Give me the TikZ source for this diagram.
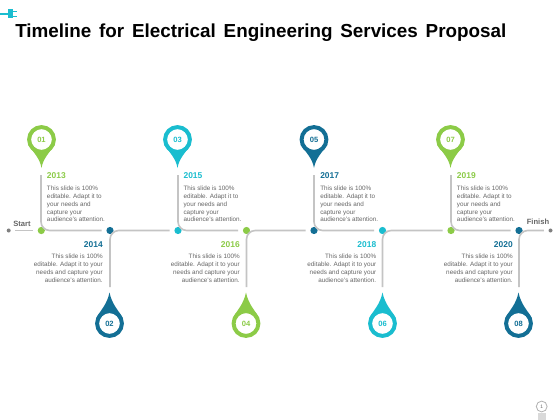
\documentclass[tikz,border=0pt]{standalone}
\usepackage{fontspec}
\setmainfont{Liberation Sans}
\usetikzlibrary{arrows.meta, positioning}
\definecolor{pinGreen}{HTML}{8CCB47}
\definecolor{pinCyan}{HTML}{1ABDCF}
\definecolor{pinDark}{HTML}{136F95}
\definecolor{railGray}{HTML}{C4C4C4}
\definecolor{bodyGray}{HTML}{666666}
\begin{document}
\begin{tikzpicture}[
    x=0.025cm, y=-0.025cm,
    pinRing/.style={circle, draw, fill=white, line width=0.1cm, minimum size=0.62cm, inner sep=0pt, font=\fontsize{5.4}{6}\selectfont\bfseries},
    tipDown/.pic={\fill (-13.4,5) .. controls (-8,13) and (-1.5,19) .. (0,28.5) .. controls (1.5,19) and (8,13) .. (13.4,5) -- cycle;},
    tipUp/.pic={\fill (-13,-6) .. controls (-9,-13) and (-2.5,-19) .. (0,-31) .. controls (2.5,-19) and (9,-13) .. (13,-6) -- cycle;},
    railDot/.style={circle, minimum size=0.18cm, inner sep=0pt},
    endDot/.style={circle, fill=gray, minimum size=0.1cm, inner sep=0pt},
    railLine/.style={draw=railGray, line width=0.04cm, rounded corners=0.22cm, shorten >=0.11cm},
    yearTop/.style={anchor=west, inner sep=0pt, font=\fontsize{6}{7}\selectfont\bfseries},
    yearBottom/.style={anchor=east, inner sep=0pt, font=\fontsize{6}{7}\selectfont\bfseries},
    bodyTop/.style={anchor=north west, align=left, inner sep=0pt, text=bodyGray, font=\fontsize{4.5}{5.5}\selectfont},
    bodyBottom/.style={anchor=north east, align=right, inner sep=0pt, text=bodyGray, font=\fontsize{4.5}{5.5}\selectfont},
    endLabel/.style={inner sep=0pt, text=bodyGray, font=\fontsize{5.4}{6}\selectfont\bfseries}
]
    % Page
    \fill[white] (0,0) rectangle (560,420);
    \useasboundingbox (0,0) rectangle (560,420);

    % Title and Plug
    \node[anchor=west, inner sep=0pt, font=\fontsize{13.4}{15}\selectfont\bfseries] (title) at (15,32.5) {\spaceskip=5.55pt Timeline for Electrical Engineering Services Proposal};
    \draw[pinCyan, line width=0.07cm] (0,14) -- (10,14);
    \fill[pinCyan] (8,9.5) -- (13,9.5) -- (13,18.5) -- (8,18.5) -- cycle;
    \draw[pinCyan, line width=0.04cm] (13,11.5) -- (17,11.5) (13,16.5) -- (17,16.5);

    % Free Ends of the Rails
    \coordinate (a1) at (41,175);
    \coordinate (a3) at (178,175);
    \coordinate (a5) at (314,175);
    \coordinate (a7) at (451,175);
    \coordinate (a2) at (110,287);
    \coordinate (a4) at (246.5,287);
    \coordinate (a6) at (382.5,287);
    \coordinate (a8) at (519,287);

    % Timeline Dots
    \node[endDot] (start) at (8.7,230.5) {};
    \node[railDot, fill=pinGreen] (d1) at (41.3,230.5) {};
    \node[railDot, fill=pinDark] (d2) at (110,230.5) {};
    \node[railDot, fill=pinCyan] (d3) at (178,230.5) {};
    \node[railDot, fill=pinGreen] (d4) at (246.5,230.5) {};
    \node[railDot, fill=pinDark] (d5) at (314,230.5) {};
    \node[railDot, fill=pinCyan] (d6) at (382.5,230.5) {};
    \node[railDot, fill=pinGreen] (d7) at (451,230.5) {};
    \node[railDot, fill=pinDark] (d8) at (519,230.5) {};
    \node[endDot] (finish) at (550.5,230.5) {};

    % Rails
    \draw[railLine, shorten <=0.11cm] (start) -- (d1);
    \draw[railLine] (a1) |- (d2);
    \draw[railLine] (a2) |- (d3);
    \draw[railLine] (a3) |- (d4);
    \draw[railLine] (a4) |- (d5);
    \draw[railLine] (a5) |- (d6);
    \draw[railLine] (a6) |- (d7);
    \draw[railLine] (a7) |- (d8);
    \draw[railLine] (a8) |- (finish);

    % Pins Above the Rail
    \pic[fill=pinGreen] at (41.5,139.5) {tipDown};
    \pic[fill=pinCyan] at (177.5,139.5) {tipDown};
    \pic[fill=pinDark] at (314,139.5) {tipDown};
    \pic[fill=pinGreen] at (450.5,139.5) {tipDown};
    \node[pinRing, draw=pinGreen, text=pinGreen] (p1) at (41.5,139.5) {01};
    \node[pinRing, draw=pinCyan, text=pinCyan] (p3) at (177.5,139.5) {03};
    \node[pinRing, draw=pinDark, text=pinDark] (p5) at (314,139.5) {05};
    \node[pinRing, draw=pinGreen, text=pinGreen] (p7) at (450.5,139.5) {07};

    % Pins Below the Rail
    \pic[fill=pinDark] at (109.5,323.5) {tipUp};
    \pic[fill=pinGreen] at (246,323.5) {tipUp};
    \pic[fill=pinCyan] at (382.5,323.5) {tipUp};
    \pic[fill=pinDark] at (518.5,323.5) {tipUp};
    \node[pinRing, draw=pinDark, text=pinDark] (p2) at (109.5,323.5) {02};
    \node[pinRing, draw=pinGreen, text=pinGreen] (p4) at (246,323.5) {04};
    \node[pinRing, draw=pinCyan, text=pinCyan] (p6) at (382.5,323.5) {06};
    \node[pinRing, draw=pinDark, text=pinDark] (p8) at (518.5,323.5) {08};

    % Upper Text Blocks
    \node[yearTop, text=pinGreen] (y1) at (46.7,175.5) {2013};
    \node[yearTop, text=pinCyan] (y3) at (183.3,175.5) {2015};
    \node[yearTop, text=pinDark] (y5) at (320,175.5) {2017};
    \node[yearTop, text=pinGreen] (y7) at (456.7,175.5) {2019};
    \node[bodyTop] (t1) at (46.7,186) {This slide is 100\%\\editable.  Adapt it to\\your needs and\\capture your\\audience's attention.};
    \node[bodyTop] (t3) at (183.3,186) {This slide is 100\%\\editable.  Adapt it to\\your needs and\\capture your\\audience's attention.};
    \node[bodyTop] (t5) at (320,186) {This slide is 100\%\\editable.  Adapt it to\\your needs and\\capture your\\audience's attention.};
    \node[bodyTop] (t7) at (456.7,186) {This slide is 100\%\\editable.  Adapt it to\\your needs and\\capture your\\audience's attention.};

    % Lower Text Blocks
    \node[yearBottom, text=pinDark] (y2) at (103,245) {2014};
    \node[yearBottom, text=pinGreen] (y4) at (240,245) {2016};
    \node[yearBottom, text=pinCyan] (y6) at (376.5,245) {2018};
    \node[yearBottom, text=pinDark] (y8) at (513,245) {2020};
    \node[bodyBottom] (t2) at (103,254) {This slide is 100\%\\editable.  Adapt it to your\\needs and capture your\\audience's attention.};
    \node[bodyBottom] (t4) at (240,254) {This slide is 100\%\\editable.  Adapt it to your\\needs and capture your\\audience's attention.};
    \node[bodyBottom] (t6) at (376.5,254) {This slide is 100\%\\editable.  Adapt it to your\\needs and capture your\\audience's attention.};
    \node[bodyBottom] (t8) at (513,254) {This slide is 100\%\\editable.  Adapt it to your\\needs and capture your\\audience's attention.};

    % Start and Finish
    \node[endLabel] (startText) at (22,223.5) {Start};
    \node[endLabel] (finishText) at (538,222) {Finish};

    % Bulb
    \fill[black!15] (537.5,413) rectangle (545.5,420);
    \node[circle, draw=black!30, fill=white, line width=0.02cm, minimum size=0.27cm, inner sep=0pt, text=bodyGray, font=\fontsize{3.5}{4}\selectfont] (bulb) at (541.7,406.5) {1};
\end{tikzpicture}
\end{document}
